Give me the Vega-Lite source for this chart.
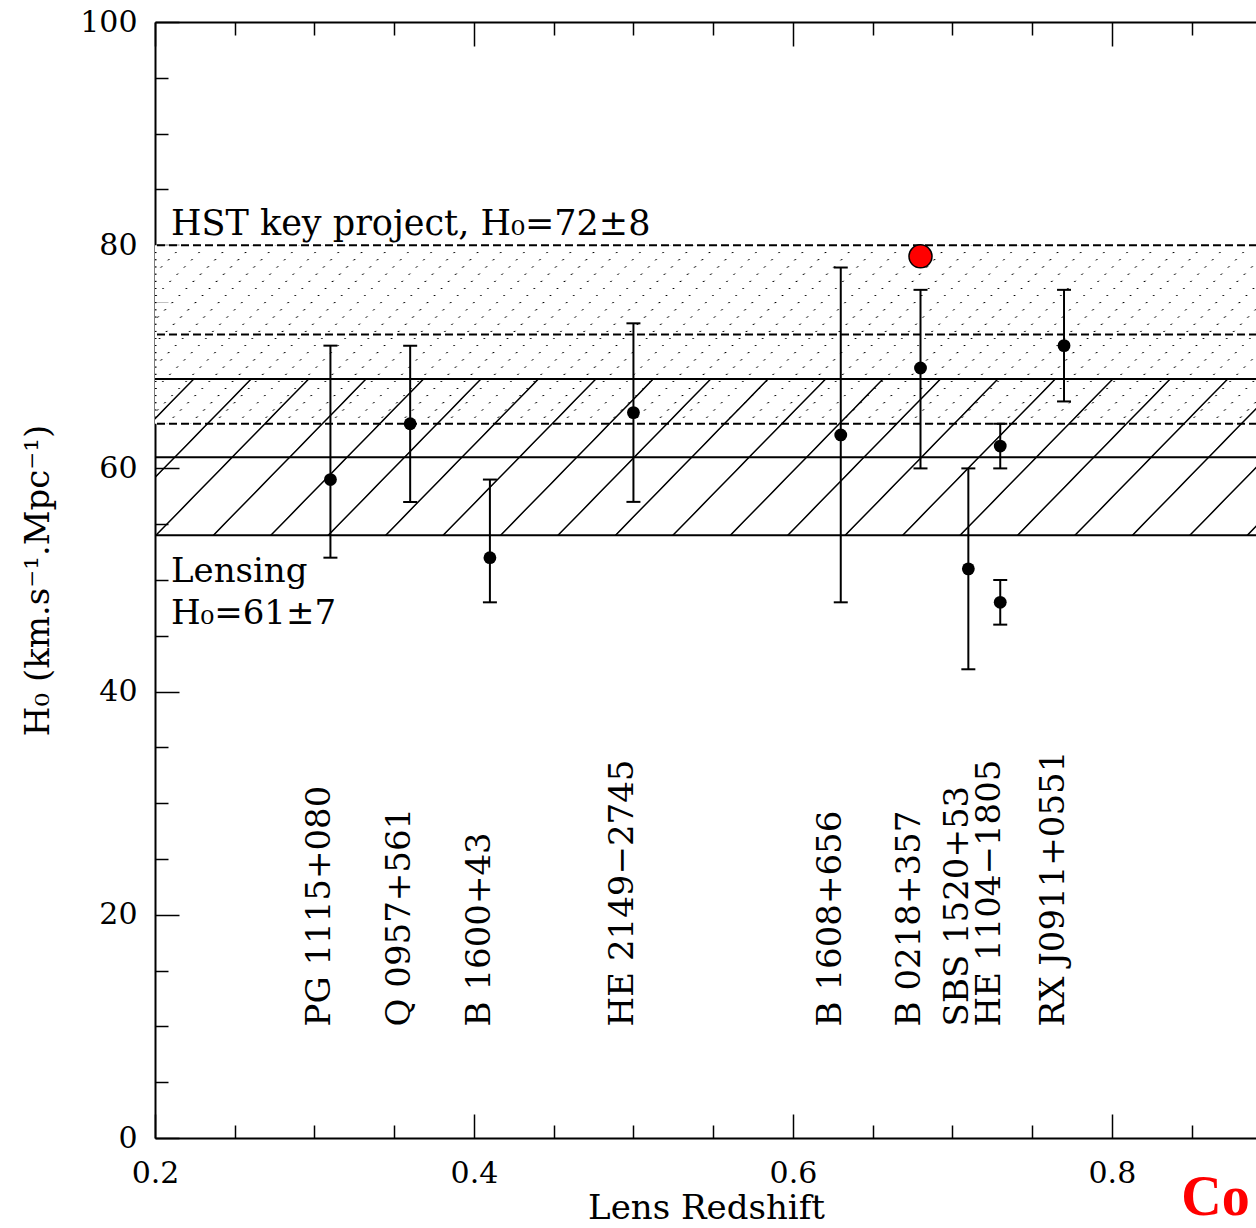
{
  "$schema": "https://vega.github.io/schema/vega-lite/v6.json",
  "width": 1102,
  "height": 1116,
  "autosize": "none",
  "padding": {"left": 155, "top": 22, "right": 0, "bottom": 90},
  "background": "white",
  "config": {
    "view": {"stroke": null},
    "axis": {"labelFont": "DejaVu Serif", "titleFont": "DejaVu Serif", "labelColor": "#000", "titleColor": "#000", "tickColor": "#000", "domainColor": "#000", "grid": false, "zindex": 1, "titleFontWeight": "normal", "labelFontWeight": "normal"},
    "text": {"font": "DejaVu Serif", "color": "#000"}
  },
  "datasets": {
    "bands": [{"band": "HST", "lo": 64, "hi": 80}, {"band": "Lensing", "lo": 54, "hi": 68}],
    "levels": [{"band": "HST", "h": 80}, {"band": "HST", "h": 72}, {"band": "HST", "h": 64}, {"band": "Lensing", "h": 68}, {"band": "Lensing", "h": 61}, {"band": "Lensing", "h": 54}],
    "measurements": [
      {"z": 0.31, "h0": 59, "lo": 52, "hi": 71},
      {"z": 0.36, "h0": 64, "lo": 57, "hi": 71},
      {"z": 0.41, "h0": 52, "lo": 48, "hi": 59},
      {"z": 0.50, "h0": 65, "lo": 57, "hi": 73},
      {"z": 0.63, "h0": 63, "lo": 48, "hi": 78},
      {"z": 0.68, "h0": 69, "lo": 60, "hi": 76},
      {"z": 0.71, "h0": 51, "lo": 42, "hi": 60},
      {"z": 0.73, "h0": 48, "lo": 46, "hi": 50},
      {"z": 0.73, "h0": 62, "lo": 60, "hi": 64},
      {"z": 0.77, "h0": 71, "lo": 66, "hi": 76}
    ],
    "lenses": [
      {"name": "PG 1115+080", "z": 0.31},
      {"name": "Q 0957+561", "z": 0.36},
      {"name": "B 1600+43", "z": 0.41},
      {"name": "HE 2149−2745", "z": 0.50},
      {"name": "B 1608+656", "z": 0.63},
      {"name": "B 0218+357", "z": 0.68},
      {"name": "SBS 1520+53", "z": 0.71},
      {"name": "HE 1104−1805", "z": 0.73},
      {"name": "RX J0911+0551", "z": 0.77}
    ],
    "highlight": [{"z": 0.68, "h0": 79}]
  },
  "resolve": {"axis": {"x": "independent", "y": "independent"}},
  "layer": [
    {
      "data": {"name": "bands"},
      "transform": [{"filter": "datum.band === 'HST'"}],
      "mark": {"type": "rect", "strokeWidth": 0, "fill": {"gradient": "linear", "x1": 0, "y1": 0, "x2": 1.132304, "y2": 0.18347, "stops": [
        {"offset": 0.0027, "color": "rgba(0,0,0,0)"}, {"offset": 0.0039, "color": "#000"}, {"offset": 0.0051, "color": "rgba(0,0,0,0)"},
        {"offset": 0.0208, "color": "rgba(0,0,0,0)"}, {"offset": 0.0220, "color": "#000"}, {"offset": 0.0232, "color": "rgba(0,0,0,0)"},
        {"offset": 0.0389, "color": "rgba(0,0,0,0)"}, {"offset": 0.0401, "color": "#000"}, {"offset": 0.0413, "color": "rgba(0,0,0,0)"},
        {"offset": 0.0571, "color": "rgba(0,0,0,0)"}, {"offset": 0.0583, "color": "#000"}, {"offset": 0.0595, "color": "rgba(0,0,0,0)"},
        {"offset": 0.0752, "color": "rgba(0,0,0,0)"}, {"offset": 0.0764, "color": "#000"}, {"offset": 0.0776, "color": "rgba(0,0,0,0)"},
        {"offset": 0.0933, "color": "rgba(0,0,0,0)"}, {"offset": 0.0945, "color": "#000"}, {"offset": 0.0957, "color": "rgba(0,0,0,0)"},
        {"offset": 0.1114, "color": "rgba(0,0,0,0)"}, {"offset": 0.1126, "color": "#000"}, {"offset": 0.1138, "color": "rgba(0,0,0,0)"},
        {"offset": 0.1295, "color": "rgba(0,0,0,0)"}, {"offset": 0.1307, "color": "#000"}, {"offset": 0.1319, "color": "rgba(0,0,0,0)"},
        {"offset": 0.1476, "color": "rgba(0,0,0,0)"}, {"offset": 0.1488, "color": "#000"}, {"offset": 0.1500, "color": "rgba(0,0,0,0)"},
        {"offset": 0.1658, "color": "rgba(0,0,0,0)"}, {"offset": 0.1670, "color": "#000"}, {"offset": 0.1682, "color": "rgba(0,0,0,0)"},
        {"offset": 0.1839, "color": "rgba(0,0,0,0)"}, {"offset": 0.1851, "color": "#000"}, {"offset": 0.1863, "color": "rgba(0,0,0,0)"},
        {"offset": 0.2020, "color": "rgba(0,0,0,0)"}, {"offset": 0.2032, "color": "#000"}, {"offset": 0.2044, "color": "rgba(0,0,0,0)"},
        {"offset": 0.2201, "color": "rgba(0,0,0,0)"}, {"offset": 0.2213, "color": "#000"}, {"offset": 0.2225, "color": "rgba(0,0,0,0)"},
        {"offset": 0.2382, "color": "rgba(0,0,0,0)"}, {"offset": 0.2394, "color": "#000"}, {"offset": 0.2406, "color": "rgba(0,0,0,0)"},
        {"offset": 0.2564, "color": "rgba(0,0,0,0)"}, {"offset": 0.2576, "color": "#000"}, {"offset": 0.2588, "color": "rgba(0,0,0,0)"},
        {"offset": 0.2745, "color": "rgba(0,0,0,0)"}, {"offset": 0.2757, "color": "#000"}, {"offset": 0.2769, "color": "rgba(0,0,0,0)"},
        {"offset": 0.2926, "color": "rgba(0,0,0,0)"}, {"offset": 0.2938, "color": "#000"}, {"offset": 0.2950, "color": "rgba(0,0,0,0)"},
        {"offset": 0.3107, "color": "rgba(0,0,0,0)"}, {"offset": 0.3119, "color": "#000"}, {"offset": 0.3131, "color": "rgba(0,0,0,0)"},
        {"offset": 0.3288, "color": "rgba(0,0,0,0)"}, {"offset": 0.3300, "color": "#000"}, {"offset": 0.3312, "color": "rgba(0,0,0,0)"},
        {"offset": 0.3469, "color": "rgba(0,0,0,0)"}, {"offset": 0.3481, "color": "#000"}, {"offset": 0.3493, "color": "rgba(0,0,0,0)"},
        {"offset": 0.3651, "color": "rgba(0,0,0,0)"}, {"offset": 0.3663, "color": "#000"}, {"offset": 0.3675, "color": "rgba(0,0,0,0)"},
        {"offset": 0.3832, "color": "rgba(0,0,0,0)"}, {"offset": 0.3844, "color": "#000"}, {"offset": 0.3856, "color": "rgba(0,0,0,0)"},
        {"offset": 0.4013, "color": "rgba(0,0,0,0)"}, {"offset": 0.4025, "color": "#000"}, {"offset": 0.4037, "color": "rgba(0,0,0,0)"},
        {"offset": 0.4194, "color": "rgba(0,0,0,0)"}, {"offset": 0.4206, "color": "#000"}, {"offset": 0.4218, "color": "rgba(0,0,0,0)"},
        {"offset": 0.4375, "color": "rgba(0,0,0,0)"}, {"offset": 0.4387, "color": "#000"}, {"offset": 0.4399, "color": "rgba(0,0,0,0)"},
        {"offset": 0.4556, "color": "rgba(0,0,0,0)"}, {"offset": 0.4568, "color": "#000"}, {"offset": 0.4580, "color": "rgba(0,0,0,0)"},
        {"offset": 0.4738, "color": "rgba(0,0,0,0)"}, {"offset": 0.4750, "color": "#000"}, {"offset": 0.4762, "color": "rgba(0,0,0,0)"},
        {"offset": 0.4919, "color": "rgba(0,0,0,0)"}, {"offset": 0.4931, "color": "#000"}, {"offset": 0.4943, "color": "rgba(0,0,0,0)"},
        {"offset": 0.5100, "color": "rgba(0,0,0,0)"}, {"offset": 0.5112, "color": "#000"}, {"offset": 0.5124, "color": "rgba(0,0,0,0)"},
        {"offset": 0.5281, "color": "rgba(0,0,0,0)"}, {"offset": 0.5293, "color": "#000"}, {"offset": 0.5305, "color": "rgba(0,0,0,0)"},
        {"offset": 0.5462, "color": "rgba(0,0,0,0)"}, {"offset": 0.5474, "color": "#000"}, {"offset": 0.5486, "color": "rgba(0,0,0,0)"},
        {"offset": 0.5643, "color": "rgba(0,0,0,0)"}, {"offset": 0.5655, "color": "#000"}, {"offset": 0.5667, "color": "rgba(0,0,0,0)"},
        {"offset": 0.5825, "color": "rgba(0,0,0,0)"}, {"offset": 0.5837, "color": "#000"}, {"offset": 0.5849, "color": "rgba(0,0,0,0)"},
        {"offset": 0.6006, "color": "rgba(0,0,0,0)"}, {"offset": 0.6018, "color": "#000"}, {"offset": 0.6030, "color": "rgba(0,0,0,0)"},
        {"offset": 0.6187, "color": "rgba(0,0,0,0)"}, {"offset": 0.6199, "color": "#000"}, {"offset": 0.6211, "color": "rgba(0,0,0,0)"},
        {"offset": 0.6368, "color": "rgba(0,0,0,0)"}, {"offset": 0.6380, "color": "#000"}, {"offset": 0.6392, "color": "rgba(0,0,0,0)"},
        {"offset": 0.6549, "color": "rgba(0,0,0,0)"}, {"offset": 0.6561, "color": "#000"}, {"offset": 0.6573, "color": "rgba(0,0,0,0)"},
        {"offset": 0.6730, "color": "rgba(0,0,0,0)"}, {"offset": 0.6742, "color": "#000"}, {"offset": 0.6754, "color": "rgba(0,0,0,0)"},
        {"offset": 0.6912, "color": "rgba(0,0,0,0)"}, {"offset": 0.6924, "color": "#000"}, {"offset": 0.6936, "color": "rgba(0,0,0,0)"},
        {"offset": 0.7093, "color": "rgba(0,0,0,0)"}, {"offset": 0.7105, "color": "#000"}, {"offset": 0.7117, "color": "rgba(0,0,0,0)"},
        {"offset": 0.7274, "color": "rgba(0,0,0,0)"}, {"offset": 0.7286, "color": "#000"}, {"offset": 0.7298, "color": "rgba(0,0,0,0)"},
        {"offset": 0.7455, "color": "rgba(0,0,0,0)"}, {"offset": 0.7467, "color": "#000"}, {"offset": 0.7479, "color": "rgba(0,0,0,0)"},
        {"offset": 0.7636, "color": "rgba(0,0,0,0)"}, {"offset": 0.7648, "color": "#000"}, {"offset": 0.7660, "color": "rgba(0,0,0,0)"},
        {"offset": 0.7817, "color": "rgba(0,0,0,0)"}, {"offset": 0.7829, "color": "#000"}, {"offset": 0.7841, "color": "rgba(0,0,0,0)"},
        {"offset": 0.7999, "color": "rgba(0,0,0,0)"}, {"offset": 0.8011, "color": "#000"}, {"offset": 0.8023, "color": "rgba(0,0,0,0)"},
        {"offset": 0.8180, "color": "rgba(0,0,0,0)"}, {"offset": 0.8192, "color": "#000"}, {"offset": 0.8204, "color": "rgba(0,0,0,0)"},
        {"offset": 0.8361, "color": "rgba(0,0,0,0)"}, {"offset": 0.8373, "color": "#000"}, {"offset": 0.8385, "color": "rgba(0,0,0,0)"},
        {"offset": 0.8542, "color": "rgba(0,0,0,0)"}, {"offset": 0.8554, "color": "#000"}, {"offset": 0.8566, "color": "rgba(0,0,0,0)"},
        {"offset": 0.8723, "color": "rgba(0,0,0,0)"}, {"offset": 0.8735, "color": "#000"}, {"offset": 0.8747, "color": "rgba(0,0,0,0)"},
        {"offset": 0.8904, "color": "rgba(0,0,0,0)"}, {"offset": 0.8916, "color": "#000"}, {"offset": 0.8928, "color": "rgba(0,0,0,0)"},
        {"offset": 0.9086, "color": "rgba(0,0,0,0)"}, {"offset": 0.9098, "color": "#000"}, {"offset": 0.9110, "color": "rgba(0,0,0,0)"},
        {"offset": 0.9267, "color": "rgba(0,0,0,0)"}, {"offset": 0.9279, "color": "#000"}, {"offset": 0.9291, "color": "rgba(0,0,0,0)"},
        {"offset": 0.9448, "color": "rgba(0,0,0,0)"}, {"offset": 0.9460, "color": "#000"}, {"offset": 0.9472, "color": "rgba(0,0,0,0)"},
        {"offset": 0.9629, "color": "rgba(0,0,0,0)"}, {"offset": 0.9641, "color": "#000"}, {"offset": 0.9653, "color": "rgba(0,0,0,0)"},
        {"offset": 0.9810, "color": "rgba(0,0,0,0)"}, {"offset": 0.9822, "color": "#000"}, {"offset": 0.9834, "color": "rgba(0,0,0,0)"}
      ]}},
      "encoding": {
        "x": {"datum": 0.2, "type": "quantitative", "scale": {"domain": [0.2, 0.891], "nice": false, "zero": false},
          "axis": {"orient": "bottom", "values": [0.2, 0.4, 0.6, 0.8], "format": ".1f", "tickSize": -24, "tickWidth": 1.5, "domainWidth": 2, "labelFontSize": 30, "labelPadding": 44, "labelFlush": false, "labelBound": false, "labelOverlap": false, "title": "Lens Redshift", "titleFontSize": 34, "titlePadding": 3}},
        "x2": {"datum": 0.891},
        "y": {"field": "lo", "type": "quantitative", "scale": {"domain": [0, 100], "nice": false, "zero": false},
          "axis": {"orient": "left", "values": [0, 20, 40, 60, 80, 100], "tickSize": -24, "tickWidth": 1.5, "domainWidth": 2, "labelFontSize": 30, "labelPadding": 42, "labelFlush": false, "labelBound": false, "labelOverlap": false, "title": "H₀ (km.s⁻¹.Mpc⁻¹)", "titleFontSize": 34, "titlePadding": 24}},
        "y2": {"field": "hi"}
      }
    },
    {
      "data": {"name": "bands"},
      "transform": [{"filter": "datum.band === 'HST'"}],
      "mark": {"type": "rect", "strokeWidth": 0, "fill": {"gradient": "linear", "x1": 0, "y1": 0, "x2": 0, "y2": 1, "stops": [
        {"offset": 0.0368, "color": "#fff"}, {"offset": 0.0404, "color": "rgba(255,255,255,0)"}, {"offset": 0.0432, "color": "rgba(255,255,255,0)"}, {"offset": 0.0468, "color": "#fff"},
        {"offset": 0.0769, "color": "#fff"}, {"offset": 0.0805, "color": "rgba(255,255,255,0)"}, {"offset": 0.0833, "color": "rgba(255,255,255,0)"}, {"offset": 0.0869, "color": "#fff"},
        {"offset": 0.1169, "color": "#fff"}, {"offset": 0.1205, "color": "rgba(255,255,255,0)"}, {"offset": 0.1233, "color": "rgba(255,255,255,0)"}, {"offset": 0.1269, "color": "#fff"},
        {"offset": 0.1570, "color": "#fff"}, {"offset": 0.1606, "color": "rgba(255,255,255,0)"}, {"offset": 0.1634, "color": "rgba(255,255,255,0)"}, {"offset": 0.1670, "color": "#fff"},
        {"offset": 0.1970, "color": "#fff"}, {"offset": 0.2006, "color": "rgba(255,255,255,0)"}, {"offset": 0.2034, "color": "rgba(255,255,255,0)"}, {"offset": 0.2070, "color": "#fff"},
        {"offset": 0.2370, "color": "#fff"}, {"offset": 0.2406, "color": "rgba(255,255,255,0)"}, {"offset": 0.2434, "color": "rgba(255,255,255,0)"}, {"offset": 0.2470, "color": "#fff"},
        {"offset": 0.2771, "color": "#fff"}, {"offset": 0.2807, "color": "rgba(255,255,255,0)"}, {"offset": 0.2835, "color": "rgba(255,255,255,0)"}, {"offset": 0.2871, "color": "#fff"},
        {"offset": 0.3171, "color": "#fff"}, {"offset": 0.3207, "color": "rgba(255,255,255,0)"}, {"offset": 0.3235, "color": "rgba(255,255,255,0)"}, {"offset": 0.3271, "color": "#fff"},
        {"offset": 0.3572, "color": "#fff"}, {"offset": 0.3608, "color": "rgba(255,255,255,0)"}, {"offset": 0.3636, "color": "rgba(255,255,255,0)"}, {"offset": 0.3672, "color": "#fff"},
        {"offset": 0.3972, "color": "#fff"}, {"offset": 0.4008, "color": "rgba(255,255,255,0)"}, {"offset": 0.4036, "color": "rgba(255,255,255,0)"}, {"offset": 0.4072, "color": "#fff"},
        {"offset": 0.4373, "color": "#fff"}, {"offset": 0.4409, "color": "rgba(255,255,255,0)"}, {"offset": 0.4437, "color": "rgba(255,255,255,0)"}, {"offset": 0.4473, "color": "#fff"},
        {"offset": 0.4773, "color": "#fff"}, {"offset": 0.4809, "color": "rgba(255,255,255,0)"}, {"offset": 0.4837, "color": "rgba(255,255,255,0)"}, {"offset": 0.4873, "color": "#fff"},
        {"offset": 0.5173, "color": "#fff"}, {"offset": 0.5209, "color": "rgba(255,255,255,0)"}, {"offset": 0.5237, "color": "rgba(255,255,255,0)"}, {"offset": 0.5273, "color": "#fff"},
        {"offset": 0.5574, "color": "#fff"}, {"offset": 0.5610, "color": "rgba(255,255,255,0)"}, {"offset": 0.5638, "color": "rgba(255,255,255,0)"}, {"offset": 0.5674, "color": "#fff"},
        {"offset": 0.5974, "color": "#fff"}, {"offset": 0.6010, "color": "rgba(255,255,255,0)"}, {"offset": 0.6038, "color": "rgba(255,255,255,0)"}, {"offset": 0.6074, "color": "#fff"},
        {"offset": 0.6375, "color": "#fff"}, {"offset": 0.6411, "color": "rgba(255,255,255,0)"}, {"offset": 0.6439, "color": "rgba(255,255,255,0)"}, {"offset": 0.6475, "color": "#fff"},
        {"offset": 0.6775, "color": "#fff"}, {"offset": 0.6811, "color": "rgba(255,255,255,0)"}, {"offset": 0.6839, "color": "rgba(255,255,255,0)"}, {"offset": 0.6875, "color": "#fff"},
        {"offset": 0.7176, "color": "#fff"}, {"offset": 0.7212, "color": "rgba(255,255,255,0)"}, {"offset": 0.7240, "color": "rgba(255,255,255,0)"}, {"offset": 0.7276, "color": "#fff"},
        {"offset": 0.7576, "color": "#fff"}, {"offset": 0.7612, "color": "rgba(255,255,255,0)"}, {"offset": 0.7640, "color": "rgba(255,255,255,0)"}, {"offset": 0.7676, "color": "#fff"},
        {"offset": 0.7976, "color": "#fff"}, {"offset": 0.8012, "color": "rgba(255,255,255,0)"}, {"offset": 0.8040, "color": "rgba(255,255,255,0)"}, {"offset": 0.8076, "color": "#fff"},
        {"offset": 0.8377, "color": "#fff"}, {"offset": 0.8413, "color": "rgba(255,255,255,0)"}, {"offset": 0.8441, "color": "rgba(255,255,255,0)"}, {"offset": 0.8477, "color": "#fff"},
        {"offset": 0.8777, "color": "#fff"}, {"offset": 0.8813, "color": "rgba(255,255,255,0)"}, {"offset": 0.8841, "color": "rgba(255,255,255,0)"}, {"offset": 0.8877, "color": "#fff"},
        {"offset": 0.9178, "color": "#fff"}, {"offset": 0.9214, "color": "rgba(255,255,255,0)"}, {"offset": 0.9242, "color": "rgba(255,255,255,0)"}, {"offset": 0.9278, "color": "#fff"},
        {"offset": 0.9578, "color": "#fff"}, {"offset": 0.9614, "color": "rgba(255,255,255,0)"}, {"offset": 0.9642, "color": "rgba(255,255,255,0)"}, {"offset": 0.9678, "color": "#fff"}
      ]}},
      "encoding": {
        "x": {"datum": 0.2, "type": "quantitative", "scale": {"domain": [0.2, 0.891], "nice": false, "zero": false},
          "axis": {"orient": "bottom", "values": [0.25, 0.3, 0.35, 0.45, 0.5, 0.55, 0.65, 0.7, 0.75, 0.85], "tickSize": -13, "tickWidth": 1.5, "labels": false, "domain": false, "title": null}},
        "x2": {"datum": 0.891},
        "y": {"field": "lo", "type": "quantitative", "scale": {"domain": [0, 100], "nice": false, "zero": false},
          "axis": {"orient": "left", "values": [5, 10, 15, 25, 30, 35, 45, 50, 55, 65, 70, 75, 85, 90, 95], "tickSize": -13, "tickWidth": 1.5, "labels": false, "domain": false, "title": null}},
        "y2": {"field": "hi"}
      }
    },
    {
      "data": {"name": "bands"},
      "transform": [{"filter": "datum.band === 'Lensing'"}],
      "mark": {"type": "rect", "strokeWidth": 0, "fill": {"gradient": "linear", "x1": 0, "y1": 0, "x2": 1.117086, "y2": 0.154736, "stops": [
        {"offset": 0.02945, "color": "rgba(0,0,0,0)"}, {"offset": 0.03046, "color": "#000"}, {"offset": 0.03112, "color": "#000"}, {"offset": 0.03213, "color": "rgba(0,0,0,0)"},
        {"offset": 0.07523, "color": "rgba(0,0,0,0)"}, {"offset": 0.07624, "color": "#000"}, {"offset": 0.07690, "color": "#000"}, {"offset": 0.07791, "color": "rgba(0,0,0,0)"},
        {"offset": 0.12101, "color": "rgba(0,0,0,0)"}, {"offset": 0.12202, "color": "#000"}, {"offset": 0.12268, "color": "#000"}, {"offset": 0.12369, "color": "rgba(0,0,0,0)"},
        {"offset": 0.16679, "color": "rgba(0,0,0,0)"}, {"offset": 0.16780, "color": "#000"}, {"offset": 0.16846, "color": "#000"}, {"offset": 0.16947, "color": "rgba(0,0,0,0)"},
        {"offset": 0.21257, "color": "rgba(0,0,0,0)"}, {"offset": 0.21358, "color": "#000"}, {"offset": 0.21424, "color": "#000"}, {"offset": 0.21525, "color": "rgba(0,0,0,0)"},
        {"offset": 0.25836, "color": "rgba(0,0,0,0)"}, {"offset": 0.25937, "color": "#000"}, {"offset": 0.26003, "color": "#000"}, {"offset": 0.26104, "color": "rgba(0,0,0,0)"},
        {"offset": 0.30414, "color": "rgba(0,0,0,0)"}, {"offset": 0.30515, "color": "#000"}, {"offset": 0.30581, "color": "#000"}, {"offset": 0.30682, "color": "rgba(0,0,0,0)"},
        {"offset": 0.34992, "color": "rgba(0,0,0,0)"}, {"offset": 0.35093, "color": "#000"}, {"offset": 0.35159, "color": "#000"}, {"offset": 0.35260, "color": "rgba(0,0,0,0)"},
        {"offset": 0.39570, "color": "rgba(0,0,0,0)"}, {"offset": 0.39671, "color": "#000"}, {"offset": 0.39737, "color": "#000"}, {"offset": 0.39838, "color": "rgba(0,0,0,0)"},
        {"offset": 0.44148, "color": "rgba(0,0,0,0)"}, {"offset": 0.44249, "color": "#000"}, {"offset": 0.44315, "color": "#000"}, {"offset": 0.44416, "color": "rgba(0,0,0,0)"},
        {"offset": 0.48726, "color": "rgba(0,0,0,0)"}, {"offset": 0.48827, "color": "#000"}, {"offset": 0.48893, "color": "#000"}, {"offset": 0.48994, "color": "rgba(0,0,0,0)"},
        {"offset": 0.53304, "color": "rgba(0,0,0,0)"}, {"offset": 0.53405, "color": "#000"}, {"offset": 0.53471, "color": "#000"}, {"offset": 0.53572, "color": "rgba(0,0,0,0)"},
        {"offset": 0.57882, "color": "rgba(0,0,0,0)"}, {"offset": 0.57983, "color": "#000"}, {"offset": 0.58049, "color": "#000"}, {"offset": 0.58150, "color": "rgba(0,0,0,0)"},
        {"offset": 0.62460, "color": "rgba(0,0,0,0)"}, {"offset": 0.62561, "color": "#000"}, {"offset": 0.62627, "color": "#000"}, {"offset": 0.62728, "color": "rgba(0,0,0,0)"},
        {"offset": 0.67038, "color": "rgba(0,0,0,0)"}, {"offset": 0.67139, "color": "#000"}, {"offset": 0.67205, "color": "#000"}, {"offset": 0.67306, "color": "rgba(0,0,0,0)"},
        {"offset": 0.71617, "color": "rgba(0,0,0,0)"}, {"offset": 0.71718, "color": "#000"}, {"offset": 0.71784, "color": "#000"}, {"offset": 0.71885, "color": "rgba(0,0,0,0)"},
        {"offset": 0.76195, "color": "rgba(0,0,0,0)"}, {"offset": 0.76296, "color": "#000"}, {"offset": 0.76362, "color": "#000"}, {"offset": 0.76463, "color": "rgba(0,0,0,0)"},
        {"offset": 0.80773, "color": "rgba(0,0,0,0)"}, {"offset": 0.80874, "color": "#000"}, {"offset": 0.80940, "color": "#000"}, {"offset": 0.81041, "color": "rgba(0,0,0,0)"},
        {"offset": 0.85351, "color": "rgba(0,0,0,0)"}, {"offset": 0.85452, "color": "#000"}, {"offset": 0.85518, "color": "#000"}, {"offset": 0.85619, "color": "rgba(0,0,0,0)"},
        {"offset": 0.89929, "color": "rgba(0,0,0,0)"}, {"offset": 0.90030, "color": "#000"}, {"offset": 0.90096, "color": "#000"}, {"offset": 0.90197, "color": "rgba(0,0,0,0)"},
        {"offset": 0.94507, "color": "rgba(0,0,0,0)"}, {"offset": 0.94608, "color": "#000"}, {"offset": 0.94674, "color": "#000"}, {"offset": 0.94775, "color": "rgba(0,0,0,0)"},
        {"offset": 0.99085, "color": "rgba(0,0,0,0)"}, {"offset": 0.99186, "color": "#000"}, {"offset": 0.99252, "color": "#000"}, {"offset": 0.99353, "color": "rgba(0,0,0,0)"}
      ]}},
      "encoding": {
        "x": {"datum": 0.2, "type": "quantitative", "scale": {"domain": [0.2, 0.891], "nice": false, "zero": false},
          "axis": {"orient": "top", "values": [0.2, 0.4, 0.6, 0.8], "tickSize": -24, "tickWidth": 1.5, "domainWidth": 2, "labels": false, "domain": true, "title": null}},
        "x2": {"datum": 0.891},
        "y": {"field": "lo", "type": "quantitative", "scale": {"domain": [0, 100], "nice": false, "zero": false}, "axis": null},
        "y2": {"field": "hi"}
      }
    },
    {
      "data": {"name": "levels"},
      "transform": [{"filter": "datum.band === 'Lensing'"}],
      "mark": {"type": "rule", "color": "#000", "strokeWidth": 2},
      "encoding": {
        "y": {"field": "h", "type": "quantitative", "scale": {"domain": [0, 100], "nice": false, "zero": false}, "axis": null}
      }
    },
    {
      "data": {"name": "levels"},
      "transform": [{"filter": "datum.band === 'HST'"}],
      "mark": {"type": "rule", "color": "#000", "strokeWidth": 2, "strokeDash": [8, 4]},
      "encoding": {
        "y": {"field": "h", "type": "quantitative", "scale": {"domain": [0, 100], "nice": false, "zero": false}, "axis": null}
      }
    },
    {
      "data": {"name": "measurements"},
      "mark": {"type": "rule", "color": "#000", "strokeWidth": 2},
      "encoding": {
        "x": {"field": "z", "type": "quantitative", "scale": {"domain": [0.2, 0.891], "nice": false, "zero": false},
          "axis": {"orient": "top", "values": [0.25, 0.3, 0.35, 0.45, 0.5, 0.55, 0.65, 0.7, 0.75, 0.85], "tickSize": -13, "tickWidth": 1.5, "labels": false, "domain": false, "title": null}},
        "y": {"field": "lo", "type": "quantitative", "scale": {"domain": [0, 100], "nice": false, "zero": false}, "axis": null},
        "y2": {"field": "hi"}
      }
    },
    {
      "data": {"name": "measurements"},
      "mark": {"type": "tick", "orient": "horizontal", "size": 14, "thickness": 2, "color": "#000", "opacity": 1},
      "encoding": {
        "x": {"field": "z", "type": "quantitative", "scale": {"domain": [0.2, 0.891], "nice": false, "zero": false}, "axis": null},
        "y": {"field": "lo", "type": "quantitative", "scale": {"domain": [0, 100], "nice": false, "zero": false}, "axis": null}
      }
    },
    {
      "data": {"name": "measurements"},
      "mark": {"type": "tick", "orient": "horizontal", "size": 14, "thickness": 2, "color": "#000", "opacity": 1},
      "encoding": {
        "x": {"field": "z", "type": "quantitative", "scale": {"domain": [0.2, 0.891], "nice": false, "zero": false}, "axis": null},
        "y": {"field": "hi", "type": "quantitative", "scale": {"domain": [0, 100], "nice": false, "zero": false}, "axis": null}
      }
    },
    {
      "data": {"name": "measurements"},
      "mark": {"type": "circle", "size": 165, "color": "#000", "opacity": 1},
      "encoding": {
        "x": {"field": "z", "type": "quantitative", "scale": {"domain": [0.2, 0.891], "nice": false, "zero": false}, "axis": null},
        "y": {"field": "h0", "type": "quantitative", "scale": {"domain": [0, 100], "nice": false, "zero": false}, "axis": null}
      }
    },
    {
      "data": {"name": "highlight"},
      "mark": {"type": "circle", "size": 530, "fill": "#ff0000", "stroke": "#000", "strokeWidth": 1.5, "opacity": 1},
      "encoding": {
        "x": {"field": "z", "type": "quantitative", "scale": {"domain": [0.2, 0.891], "nice": false, "zero": false}, "axis": null},
        "y": {"field": "h0", "type": "quantitative", "scale": {"domain": [0, 100], "nice": false, "zero": false}, "axis": null}
      }
    },
    {
      "data": {"name": "lenses"},
      "mark": {"type": "text", "angle": 270, "align": "left", "baseline": "alphabetic", "font": "DejaVu Serif", "fontSize": 34, "color": "#000"},
      "encoding": {
        "x": {"field": "z", "type": "quantitative", "scale": {"domain": [0.2, 0.891], "nice": false, "zero": false}, "axis": null},
        "y": {"datum": 10, "type": "quantitative", "scale": {"domain": [0, 100], "nice": false, "zero": false}, "axis": null},
        "text": {"field": "name"}
      }
    },
    {
      "data": {"values": [{}]},
      "mark": {"type": "text", "align": "left", "baseline": "alphabetic", "font": "DejaVu Serif", "fontSize": 35, "color": "#000", "text": "HST key project, H₀=72±8"},
      "encoding": {
        "x": {"datum": 0.21, "type": "quantitative", "scale": {"domain": [0.2, 0.891], "nice": false, "zero": false}, "axis": null},
        "y": {"datum": 80.9, "type": "quantitative", "scale": {"domain": [0, 100], "nice": false, "zero": false}, "axis": null}
      }
    },
    {
      "data": {"values": [{}]},
      "mark": {"type": "text", "align": "left", "baseline": "alphabetic", "font": "DejaVu Serif", "fontSize": 34, "color": "#000", "lineHeight": 42, "text": ["Lensing", "H₀=61±7"]},
      "encoding": {
        "x": {"datum": 0.21, "type": "quantitative", "scale": {"domain": [0.2, 0.891], "nice": false, "zero": false}, "axis": null},
        "y": {"datum": 49.8, "type": "quantitative", "scale": {"domain": [0, 100], "nice": false, "zero": false}, "axis": null}
      }
    },
    {
      "data": {"values": [{}]},
      "mark": {"type": "text", "align": "left", "baseline": "alphabetic", "font": "Liberation Serif", "fontSize": 56, "fontWeight": "bold", "color": "#ff0000", "text": "Co"},
      "encoding": {
        "x": {"datum": 0.8435, "type": "quantitative", "scale": {"domain": [0.2, 0.891], "nice": false, "zero": false}, "axis": null},
        "y": {"datum": -6.9, "type": "quantitative", "scale": {"domain": [0, 100], "nice": false, "zero": false}, "axis": null}
      }
    }
  ]
}
